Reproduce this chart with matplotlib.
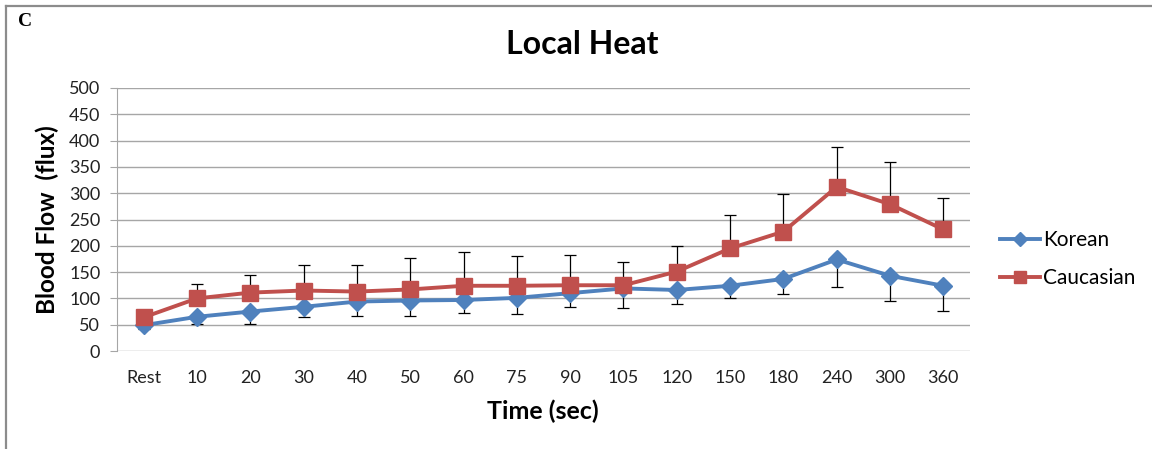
import matplotlib
matplotlib.use("Agg")
import matplotlib.pyplot as plt
from matplotlib.lines import Line2D
import numpy as np

categories = ["Rest", "10", "20", "30", "40", "50", "60", "75", "90", "105",
              "120", "150", "180", "240", "300", "360"]
korean = [49, 65, 75, 84, 94, 96, 97, 101, 110, 119, 116, 124, 137, 174, 143, 124]
korean_err = [8, 13, 23, 20, 27, 29, 24, 30, 26, 38, 27, 23, 29, 52, 47, 48]
caucasian = [64, 100, 111, 115, 113, 117, 124, 124, 125, 125, 151, 195, 227, 312, 279, 231]
caucasian_err = [4, 27, 33, 48, 50, 59, 64, 56, 57, 44, 49, 64, 71, 75, 80, 59]
yticks = [0, 50, 100, 150, 200, 250, 300, 350, 400, 450, 500]

W, H = 1152, 449
fig = plt.figure(figsize=(W / 100, H / 100), dpi=100)
fam = ["Lato", "DejaVu Sans"]

ax = fig.add_axes([117 / W, (H - 351) / H, (970 - 117) / W, (351 - 88) / H])
x = np.arange(len(categories))
blue = "#4F81BD"
red = "#C0504D"

ax.errorbar(x, korean, yerr=[korean_err, [0] * len(x)], fmt="none",
            ecolor="black", elinewidth=0.9, capsize=4, capthick=0.9, zorder=2)
ax.errorbar(x, caucasian, yerr=[[0] * len(x), caucasian_err], fmt="none",
            ecolor="black", elinewidth=0.9, capsize=4, capthick=0.9, zorder=2)
ax.plot(x, korean, color=blue, lw=2.8, marker="D", ms=9.5, mfc=blue, mec=blue, zorder=3)
ax.plot(x, caucasian, color=red, lw=2.8, marker="s", ms=11, mfc=red, mec=red, zorder=4)

ax.set_xlim(-0.5, len(categories) - 0.5)
ax.set_ylim(0, 500)
ax.set_yticks(yticks)
ax.set_xticks(x)
ax.set_xticklabels(categories)
ax.yaxis.grid(True, color="#A6A6A6", lw=1)
ax.set_axisbelow(True)
for s in ["top", "right", "bottom"]:
    ax.spines[s].set_visible(False)
ax.spines["left"].set_color("#A6A6A6")
ax.tick_params(axis="y", length=5, color="#A6A6A6", labelsize=13, pad=7)
ax.tick_params(axis="x", length=0, labelsize=13, pad=14)
for lab in ax.get_xticklabels() + ax.get_yticklabels():
    lab.set_family(fam)
    lab.set_color("#222222")

fig.text(582 / W, 1 - 45 / H, "Local Heat", ha="center", va="center",
         fontsize=23, fontweight="bold", family=fam)
fig.text(47 / W, 1 - 220 / H, "Blood Flow  (flux)", ha="center", va="center",
         rotation=90, fontsize=17.5, fontweight="bold", family=fam)
fig.text(543 / W, 1 - 411 / H, "Time (sec)", ha="center", va="center",
         fontsize=18, fontweight="bold", family=fam)
fig.text(18 / W, 1 - 22 / H, "C", ha="left", va="center",
         fontsize=14, fontweight="bold", family=["Liberation Serif"])

handles = [Line2D([], [], color=blue, lw=2.8, marker="D", ms=7.5, mfc=blue, mec=blue),
           Line2D([], [], color=red, lw=2.8, marker="s", ms=8.5, mfc=red, mec=red)]
leg = fig.legend(handles, ["Korean", "Caucasian"], loc="center left",
                 bbox_to_anchor=(1000 / W, 1 - 259 / H), frameon=False,
                 prop={"family": fam, "size": 15}, handlelength=1.9,
                 handletextpad=0.15, labelspacing=0.85, borderpad=0,
                 borderaxespad=0)

# frame lines (top and left)
fig.add_artist(Line2D([5.5 / W, 1], [1 - 5.5 / H, 1 - 5.5 / H], color="#8C8C8C", lw=1.6,
                      transform=fig.transFigure))
fig.add_artist(Line2D([5.5 / W, 5.5 / W], [0, 1 - 5.5 / H], color="#8C8C8C", lw=1.6,
                      transform=fig.transFigure))

fig.savefig("out.png", dpi=100, facecolor="white")
